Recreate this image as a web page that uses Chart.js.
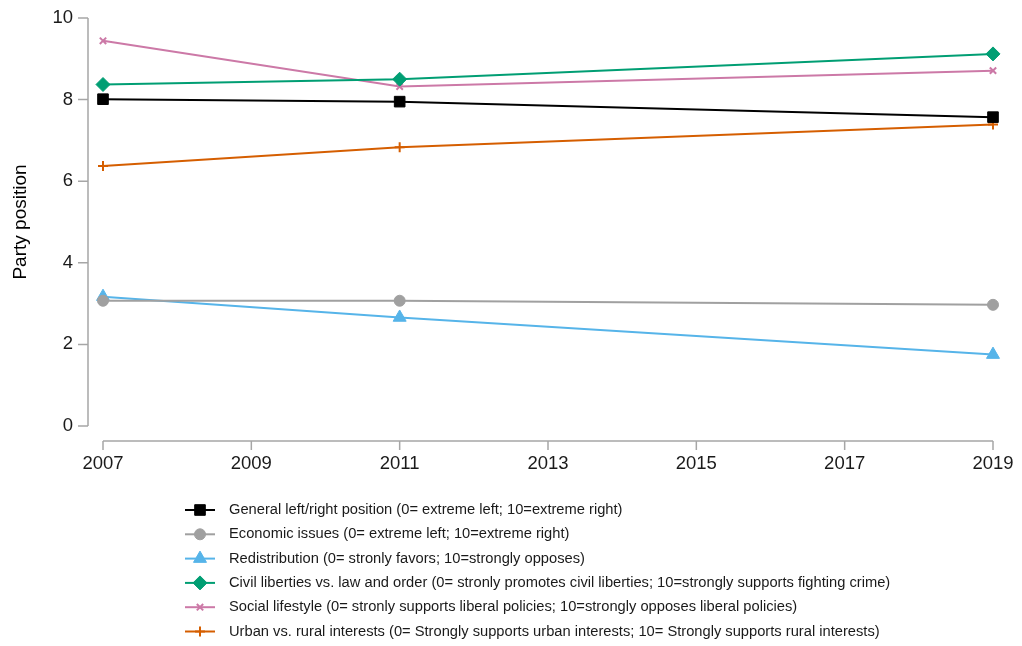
<!DOCTYPE html>
<html>
<head>
<meta charset="utf-8">
<script src="https://cdn.jsdelivr.net/npm/chart.js@4/dist/chart.umd.min.js"></script>
<style>
  html, body { margin: 0; padding: 0; background: #fff; }
  #wrap { width: 1022px; height: 646px; position: relative; }
</style>
</head>
<body>
<div id="wrap"><canvas id="chart"></canvas></div>
<script>
// Dane
const years = [2007, 2011, 2019];
const xTicks = [2007, 2009, 2011, 2013, 2015, 2017, 2019];
const yTicks = [0, 2, 4, 6, 8, 10];

const generalLeftRight = [8.01, 7.95, 7.57];
const economicIssues = [3.07, 3.07, 2.97];
const redistribution = [3.17, 2.66, 1.75];
const civilLiberties = [8.37, 8.50, 9.12];
const socialLifestyle = [9.44, 8.32, 8.71];
const urbanRural = [6.37, 6.83, 7.39];

const seriesLabels = [
    'General left/right position (0= extreme left; 10=extreme right)',
    'Economic issues (0= extreme left; 10=extreme right)',
    'Redistribution (0= stronly favors; 10=strongly opposes)',
    'Civil liberties vs. law and order (0= stronly promotes civil liberties; 10=strongly supports fighting crime)',
    'Social lifestyle (0= stronly supports liberal policies; 10=strongly opposes liberal policies)',
    'Urban vs. rural interests (0= Strongly supports urban interests; 10= Strongly supports rural interests)'
];
const seriesValues = [generalLeftRight, economicIssues, redistribution, civilLiberties, socialLifestyle, urbanRural];
const seriesColors = ['#000000', '#a0a0a0', '#56b4e9', '#009e73', '#cc79a7', '#d55e00'];
const seriesStyles = ['rect', 'circle', 'triangle', 'rectRot', 'crossRot', 'cross'];
const seriesRadius = [7.5, 5.5, 7.5, 7, 4.5, 5];
const seriesPointBorder = [1, 1, 1, 1, 2, 2];

const FONT = "'Liberation Sans', Arial, sans-serif";
const AXIS_GREY = '#a6a6a6';

const datasets = seriesLabels.map((label, i) => ({
    label: label,
    data: years.map((yr, j) => ({ x: yr, y: seriesValues[i][j] })),
    borderColor: seriesColors[i],
    backgroundColor: seriesColors[i],
    borderWidth: 2,
    pointStyle: seriesStyles[i],
    pointRadius: seriesRadius[i],
    pointBorderWidth: seriesPointBorder[i],
    pointBackgroundColor: seriesColors[i],
    pointBorderColor: seriesColors[i],
    tension: 0,
    clip: false
}));

// Osie przesunięte od obszaru wykresu (jak w oryginale)
const offsetAxes = {
    id: 'offsetAxes',
    beforeDatasetsDraw(chart) {
        const { ctx, chartArea, scales } = chart;
        const xs = scales.x, ys = scales.y;
        ctx.save();
        ctx.strokeStyle = AXIS_GREY;
        ctx.lineWidth = 1.5;
        ctx.lineCap = 'butt';

        const ax = chartArea.left - 15;
        ctx.beginPath();
        ctx.moveTo(ax, ys.getPixelForValue(yTicks[0]));
        ctx.lineTo(ax, ys.getPixelForValue(yTicks[yTicks.length - 1]));
        yTicks.forEach(v => {
            const py = ys.getPixelForValue(v);
            ctx.moveTo(ax - 10, py);
            ctx.lineTo(ax, py);
        });
        ctx.stroke();

        const ay = chartArea.bottom + 15;
        ctx.beginPath();
        ctx.moveTo(xs.getPixelForValue(xTicks[0]), ay);
        ctx.lineTo(xs.getPixelForValue(xTicks[xTicks.length - 1]), ay);
        xTicks.forEach(v => {
            const px = xs.getPixelForValue(v);
            ctx.moveTo(px, ay);
            ctx.lineTo(px, ay + 9);
        });
        ctx.stroke();
        ctx.restore();
    }
};

// Legenda w jednej kolumnie pod wykresem
const listLegend = {
    id: 'listLegend',
    afterDraw(chart) {
        const { ctx, chartArea } = chart;
        const top = chartArea.bottom + 84;
        const lineX0 = 185, lineX1 = 215, textX = 229;
        ctx.save();
        chart.data.datasets.forEach((ds, i) => {
            const y = top + i * 24.3;
            ctx.strokeStyle = ds.borderColor;
            ctx.lineWidth = 2;
            ctx.beginPath();
            ctx.moveTo(lineX0, y);
            ctx.lineTo(lineX1, y);
            ctx.stroke();
            ctx.fillStyle = ds.pointBackgroundColor;
            ctx.strokeStyle = ds.pointBorderColor;
            ctx.lineWidth = ds.pointBorderWidth;
            Chart.helpers.drawPoint(ctx, {
                pointStyle: ds.pointStyle,
                radius: ds.pointRadius,
                rotation: 0,
                borderWidth: ds.pointBorderWidth
            }, (lineX0 + lineX1) / 2, y);
            ctx.fillStyle = '#1a1a1a';
            ctx.font = '14.7px ' + FONT;
            ctx.textBaseline = 'middle';
            ctx.textAlign = 'left';
            ctx.fillText(ds.label, textX, y);
        });
        ctx.restore();
    }
};

new Chart(document.getElementById('chart').getContext('2d'), {
    type: 'line',
    data: { datasets: datasets },
    plugins: [offsetAxes, listLegend],
    options: {
        responsive: true,
        maintainAspectRatio: false,
        animation: false,
        layout: { padding: { top: 18, right: 29, bottom: 168, left: 0 } },
        plugins: {
            legend: { display: false },
            tooltip: { enabled: false }
        },
        scales: {
            x: {
                type: 'linear',
                min: xTicks[0],
                max: xTicks[xTicks.length - 1],
                grid: { display: false, drawTicks: false },
                border: { display: false },
                afterBuildTicks: scale => { scale.ticks = xTicks.map(v => ({ value: v })); },
                afterFit: scale => {
                    scale.height = 52;
                    scale.paddingLeft = 0;
                    scale.paddingRight = 0;
                },
                ticks: {
                    padding: 27,
                    color: '#1a1a1a',
                    font: { family: FONT, size: 18.5 },
                    maxRotation: 0,
                    callback: v => String(v)
                }
            },
            y: {
                min: yTicks[0],
                max: yTicks[yTicks.length - 1],
                grid: { display: false, drawTicks: false },
                border: { display: false },
                afterBuildTicks: scale => { scale.ticks = yTicks.map(v => ({ value: v })); },
                afterFit: scale => {
                    scale.width = 103;
                    scale.paddingTop = 0;
                    scale.paddingBottom = 0;
                },
                ticks: {
                    padding: 30,
                    color: '#1a1a1a',
                    font: { family: FONT, size: 18.5 }
                },
                title: {
                    display: true,
                    text: 'Party position',
                    color: '#000000',
                    font: { family: FONT, size: 19 },
                    padding: { top: 9, bottom: 0 }
                }
            }
        }
    }
});
</script>
</body>
</html>
